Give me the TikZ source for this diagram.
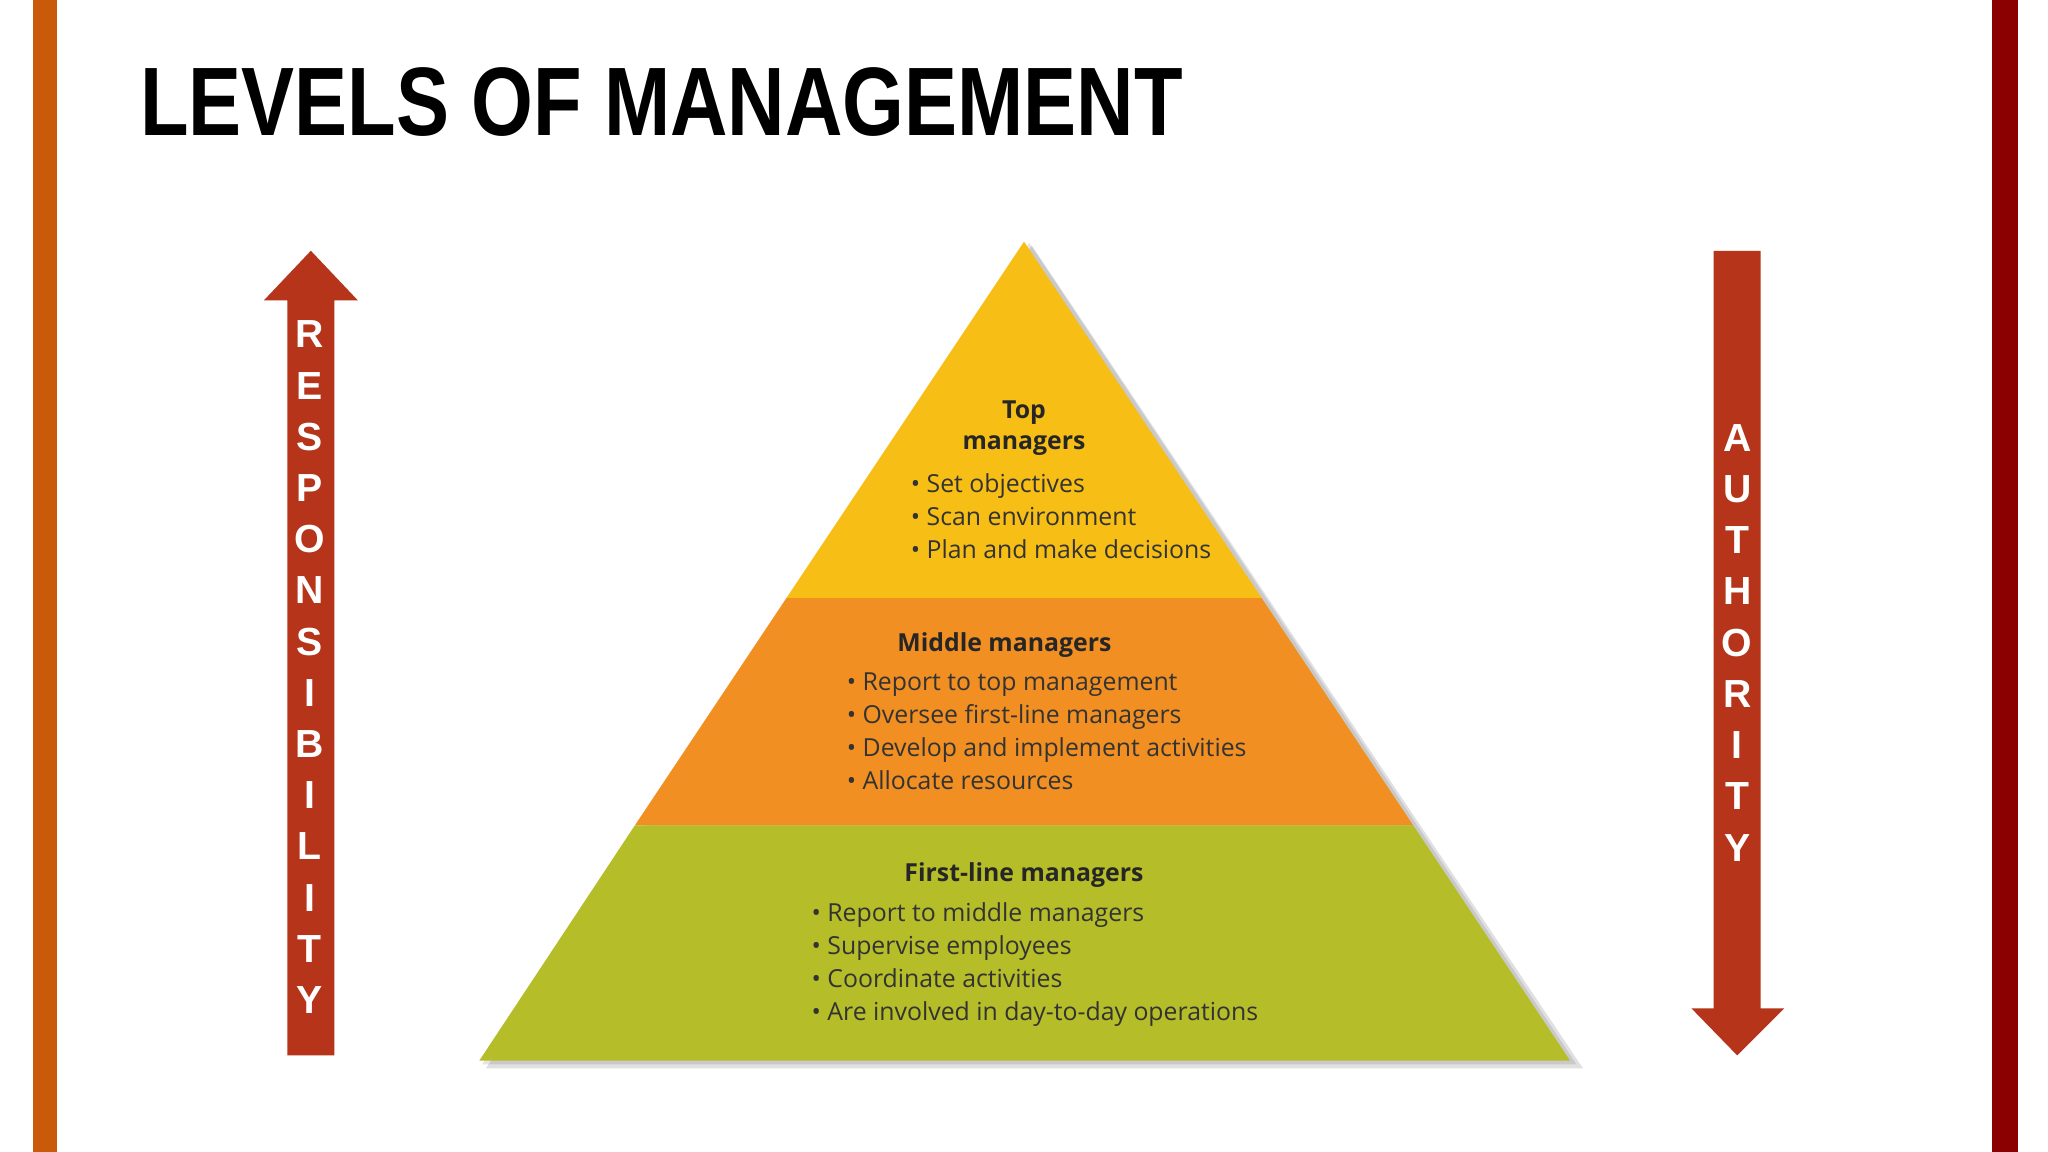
\documentclass[tikz,border=0pt]{standalone}
\usepackage{fontspec}
\setmainfont{Liberation Sans}
\newfontfamily\pyr{Open Sans}
\definecolor{barL}{HTML}{C85A0A}
\definecolor{barR}{HTML}{8B0000}
\definecolor{arr}{HTML}{B5341A}
\definecolor{ty}{HTML}{F7BE16}
\definecolor{to}{HTML}{F18F22}
\definecolor{tg}{HTML}{B5BD28}
\begin{document}
\begin{tikzpicture}[x=0.5pt,y=-0.5pt,
  hd/.style={font=\pyr\bfseries\fontsize{9.5}{12}\selectfont,text=black!85},
  bl/.style={font=\pyr\fontsize{9.5}{12.6}\selectfont,text=black!80,anchor=north west,align=left,inner sep=0},
  let/.style={font=\bfseries\fontsize{15}{15}\selectfont,text=white}]
\useasboundingbox (0,0) rectangle (1568,882);
\fill[white] (0,0) rectangle (1568,882);
\fill[barL] (25,0) rectangle (44,882);
\fill[barR] (1525,0) rectangle (1545,882);
\node[anchor=south west,inner sep=0] (title) at (107,105) {\resizebox{399pt}{26pt}{\bfseries LEVELS OF MANAGEMENT}};
% pyramid shadow
\fill[black,opacity=0.12] (790,188) -- (1212,818) -- (372,818) -- cycle;
\fill[black,opacity=0.10] (788,186) -- (1207,815) -- (369,815) -- cycle;
\coordinate (apex) at (784,185);
\fill[ty] (apex) -- (966,458) -- (602,458) -- cycle;
\fill[to] (602,458) -- (966,458) -- (1082,632) -- (486,632) -- cycle;
\fill[tg] (486,632) -- (1082,632) -- (1202,812) -- (367,812) -- cycle;
\node[hd,align=center] (toph) at (784,328) {Top\\managers};
\node[bl] (topb) at (697,362) {• Set objectives\\• Scan environment\\• Plan and make decisions};
\node[hd] (midh) at (769,494) {Middle managers};
\node[bl] (midb) at (648,515) {• Report to top management\\• Oversee first-line managers\\• Develop and implement activities\\• Allocate resources};
\node[hd] (flh) at (784,670) {First-line managers};
\node[bl] (flb) at (621,691) {• Report to middle managers\\• Supervise employees\\• Coordinate activities\\• Are involved in day-to-day operations};
% left arrow
\fill[arr] (220,808) -- (220,230) -- (202,230) -- (238,192) -- (274,230) -- (256,230) -- (256,808) -- cycle;
\foreach \c [count=\i from 0] in {R,E,S,P,O,N,S,I,B,I,L,I,T,Y}
  \node[let] (l\i) at (237,256+39.2*\i) {\c};
% right arrow
\fill[arr] (1312,192) -- (1312,772) -- (1295,772) -- (1330,808) -- (1366,772) -- (1348,772) -- (1348,192) -- cycle;
\foreach \c [count=\i from 0] in {A,U,T,H,O,R,I,T,Y}
  \node[let] (r\i) at (1330,335+39.25*\i) {\c};
\end{tikzpicture}
\end{document}
